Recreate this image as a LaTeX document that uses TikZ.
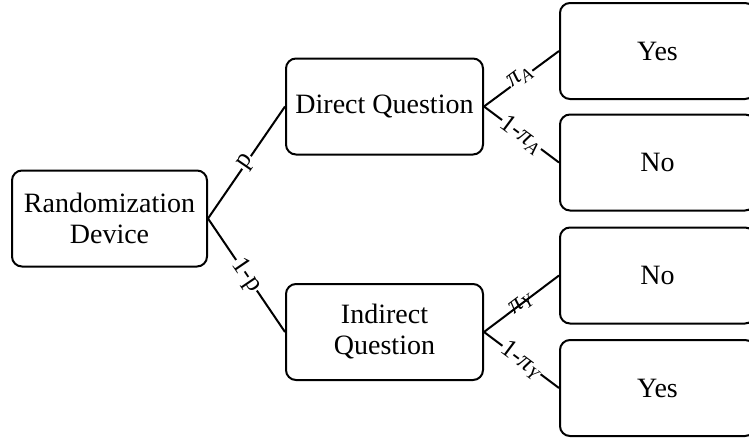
\documentclass[tikz,border=0pt]{standalone}
\usepackage{fontspec}
\setmainfont{Liberation Serif}
% italic pi with an italic subscript, set in the text font
\newcommand{\ppi}[1]{{\itshape π\textsubscript{#1}}}
\begin{document}
\begin{tikzpicture}[x=1pt,y=-1pt,
  box/.style={draw, line width=2pt, rounded corners=10pt, align=center,
    font=\fontsize{28}{31}\selectfont, inner sep=0pt,
    minimum width=195pt, minimum height=96pt},
  link/.style={line width=2pt},
  lab/.style={font=\fontsize{26}{28}\selectfont, sloped, midway, fill=white, inner sep=1pt}]
\useasboundingbox (0,0) rectangle (749,439);
\clip (0,0) rectangle (749,439);

% root and the two question types
\node[box] (dev) at (109.5,218.5) {Randomization\\Device};
\node[box, minimum width=197pt] (dq) at (384.5,106.5) {Direct Question};
\node[box, minimum width=197pt] (iq) at (384.5,332) {Indirect\\Question};

% answers
\node[box] (y1) at (657.5,51) {Yes};
\node[box] (n1) at (657.5,162.5) {No};
\node[box] (n2) at (657.5,275.5) {No};
\node[box] (y2) at (657.5,388) {Yes};

% branches
\draw[link] (dev.east) -- node[lab] {p} (dq.west);
\draw[link] (dev.east) -- node[lab] {1-p} (iq.west);
\draw[link] (dq.east) -- node[lab, above=-8pt] {\ppi{A}} (y1.west);
\draw[link] (dq.east) -- node[lab] {1-\ppi{A}} (n1.west);
\draw[link] (iq.east) -- node[lab, fill=none] {\ppi{Y}} (n2.west);
\draw[link] (iq.east) -- node[lab] {1-\ppi{Y}} (y2.west);
\end{tikzpicture}
\end{document}
